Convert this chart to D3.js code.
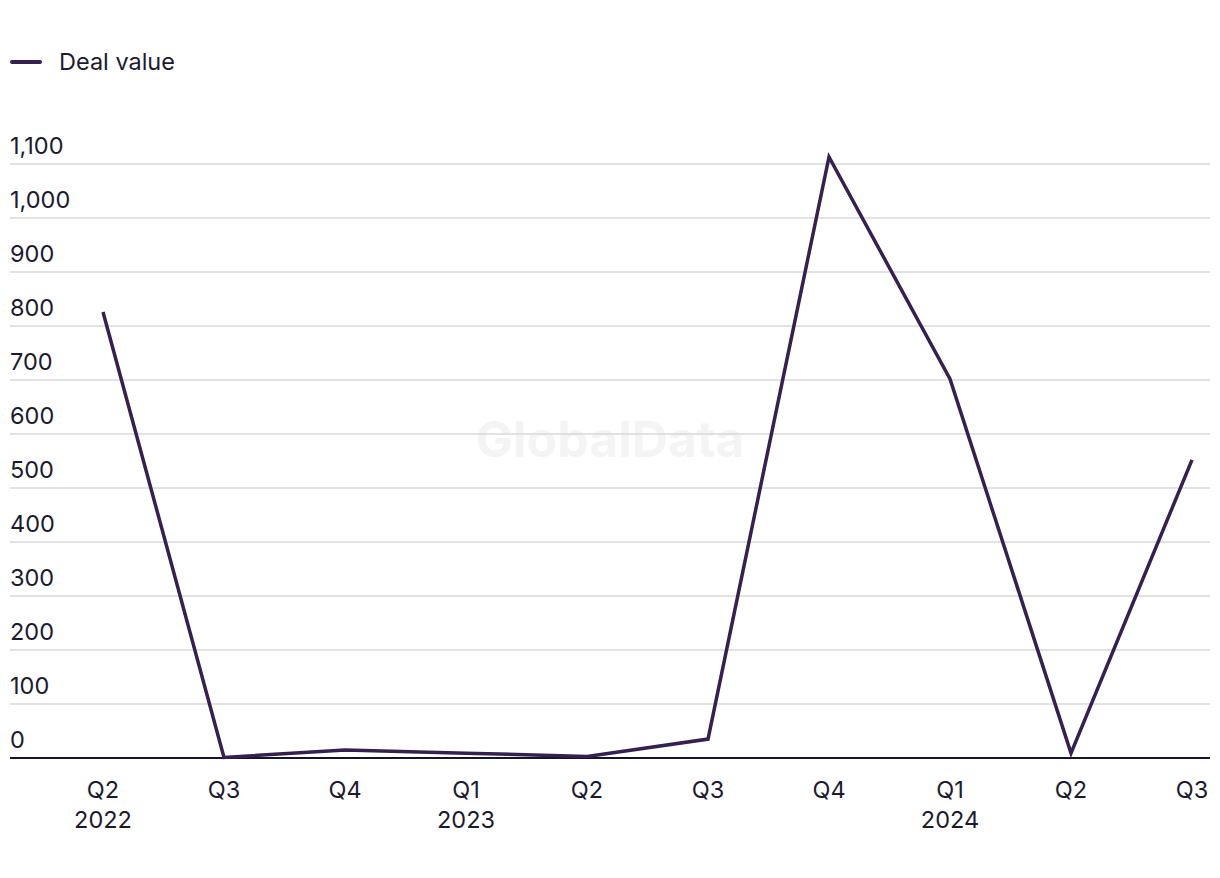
<!DOCTYPE html>
<html>
<head>
<meta charset="utf-8">
<script src="https://cdn.jsdelivr.net/npm/d3@7"></script>
<style>
  html, body { margin: 0; padding: 0; background: #ffffff; }
  svg { display: block; }
  text { font-family: Inter, "Noto Sans", sans-serif; fill: #1c1b2e; }
</style>
</head>
<body>
<svg id="chart" width="1220" height="878"></svg>
<script>
const quarters = ["Q2", "Q3", "Q4", "Q1", "Q2", "Q3", "Q4", "Q1", "Q2", "Q3"];
const years    = ["2022", "", "", "2023", "", "", "", "2024", "", ""];
const dealValue = [826, 1, 15, 9, 3, 35, 1113, 702, 9, 552];
const yTicks = [0, 100, 200, 300, 400, 500, 600, 700, 800, 900, 1000, 1100];
const seriesName = "Deal value";

const svg = d3.select("#chart");
const lineColor = "#35214f";
const fs = "23.5px";

const idx = d3.range(dealValue.length);
const x = d3.scalePoint().domain(idx).range([103, 1192]);
const y = d3.scaleLinear().domain([0, 1100]).range([758, 164]);

// watermark
svg.append("text")
  .attr("x", 610).attr("y", 457)
  .attr("text-anchor", "middle")
  .style("font-size", "50px").style("font-weight", "700")
  .style("fill", "#f4f4f4")
  .text("GlobalData");

// gridlines
svg.append("g").selectAll("line").data(yTicks.filter(d => d > 0)).enter().append("line")
  .attr("x1", 10).attr("x2", 1210)
  .attr("y1", d => y(d)).attr("y2", d => y(d))
  .attr("stroke", "#d9d9d9").attr("stroke-width", 1.5);

// y labels
svg.append("g").selectAll("text").data(yTicks).enter().append("text")
  .attr("x", 10).attr("y", d => y(d) - 10)
  .style("font-size", fs)
  .text(d => d3.format(",")(d));

// baseline axis
svg.append("line")
  .attr("x1", 10).attr("x2", 1210)
  .attr("y1", y(0)).attr("y2", y(0))
  .attr("stroke", "#15142a").attr("stroke-width", 2);

// x labels
const xl = svg.append("g").selectAll("g").data(idx).enter().append("g");
xl.append("text")
  .attr("x", d => x(d)).attr("y", 798)
  .attr("text-anchor", "middle").style("font-size", fs)
  .text(d => quarters[d]);
xl.append("text")
  .attr("x", d => x(d)).attr("y", 828)
  .attr("text-anchor", "middle").style("font-size", fs)
  .text(d => years[d]);

// line
const line = d3.line().x((d, i) => x(i)).y(d => y(d));
svg.append("path")
  .datum(dealValue)
  .attr("d", line)
  .attr("fill", "none")
  .attr("stroke", lineColor)
  .attr("stroke-width", 3.5)
  .attr("stroke-linejoin", "miter");

// legend
svg.append("line")
  .attr("x1", 12).attr("x2", 40).attr("y1", 62).attr("y2", 62)
  .attr("stroke", lineColor).attr("stroke-width", 4).attr("stroke-linecap", "round");
svg.append("text")
  .attr("x", 59).attr("y", 70)
  .style("font-size", fs)
  .text(seriesName);
</script>
</body>
</html>
